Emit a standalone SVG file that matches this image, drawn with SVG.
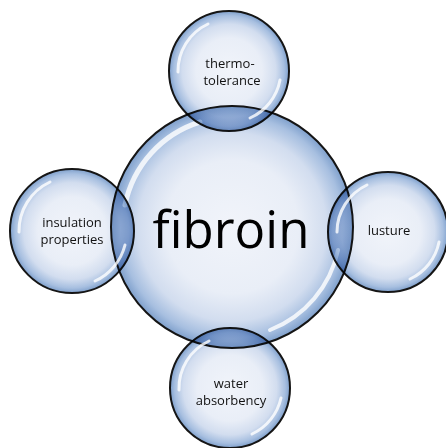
<svg xmlns="http://www.w3.org/2000/svg" width="446" height="448" viewBox="0 0 446 448">
  <defs>
    <radialGradient id="bubbleFill" cx="50%" cy="50%" r="50%">
      <stop offset="0" stop-color="#f1f4fa"/>
      <stop offset="0.55" stop-color="#e9eef7"/>
      <stop offset="0.78" stop-color="#d2ddef"/>
      <stop offset="0.92" stop-color="#a7bfe0"/>
      <stop offset="1" stop-color="#7fa0cc"/>
    </radialGradient>
    <style>
      .bubble { fill: url(#bubbleFill); stroke: #151515; stroke-width: 2; }
      .satellite { mix-blend-mode: multiply; }
      .shine { fill: none; stroke: #ffffff; stroke-linecap: round; opacity: 0.8; }
      .label { font-family: "Open Sans", "Liberation Sans", sans-serif; font-size: 13px; fill: #111111; text-anchor: middle; }
      .title { font-family: "Open Sans", "Liberation Sans", sans-serif; font-size: 51px; fill: #000000; text-anchor: middle; }
    </style>
  </defs>

  <rect width="446" height="448" fill="#ffffff"/>

  <g id="fibroin">
    <circle class="bubble" cx="232" cy="227" r="121"/>
    <path class="shine" stroke-width="5" d="M 125 205 A 110 110 0 0 1 200 122"/>
    <path class="shine" stroke-width="4" d="M 338 250 A 110 110 0 0 1 270 330"/>
  </g>

  <g id="thermotolerance">
    <circle class="bubble satellite" cx="229" cy="71" r="60"/>
    <path class="shine" stroke-width="3" d="M 178 72 A 52 52 0 0 1 208 24"/>
    <path class="shine" stroke-width="3" d="M 280 80 A 52 52 0 0 1 250 118"/>
    <text class="label" x="230" y="68">thermo-</text>
    <text class="label" x="232" y="85">tolerance</text>
  </g>

  <g id="insulation">
    <circle class="bubble satellite" cx="72" cy="231" r="62"/>
    <path class="shine" stroke-width="3" d="M 19 232 A 54 54 0 0 1 50 182"/>
    <path class="shine" stroke-width="3" d="M 125 245 A 54 54 0 0 1 95 281"/>
    <text class="label" x="72" y="227">insulation</text>
    <text class="label" x="72" y="244">properties</text>
  </g>

  <g id="lusture">
    <circle class="bubble satellite" cx="388" cy="232" r="60"/>
    <path class="shine" stroke-width="3" d="M 337 232 A 52 52 0 0 1 367 185"/>
    <path class="shine" stroke-width="3" d="M 439 242 A 52 52 0 0 1 410 279"/>
    <text class="label" x="389" y="235">lusture</text>
  </g>

  <g id="water">
    <circle class="bubble satellite" cx="230" cy="388" r="60"/>
    <path class="shine" stroke-width="3" d="M 179 390 A 52 52 0 0 1 209 341"/>
    <path class="shine" stroke-width="3" d="M 281 398 A 52 52 0 0 1 252 434"/>
    <text class="label" x="231" y="388">water</text>
    <text class="label" x="231" y="405">absorbency</text>
  </g>

  <text class="title" x="231" y="248">fibroin</text>

  <g id="connectors"/>
</svg>
